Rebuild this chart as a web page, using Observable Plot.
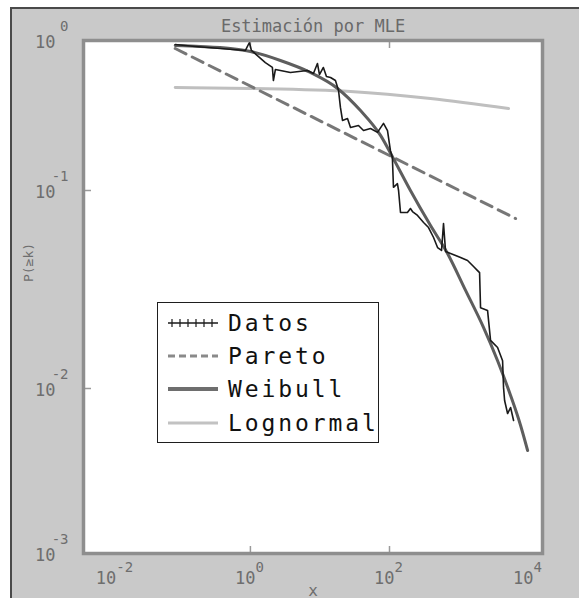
<!DOCTYPE html>
<html>
<head>
<meta charset="utf-8">
<script src="https://cdn.jsdelivr.net/npm/d3@7"></script>
<script src="https://cdn.jsdelivr.net/npm/@observablehq/plot@0.6"></script>
<style>
  html, body { margin: 0; padding: 0; background: #ffffff; }
  #page { position: absolute; left: 0; top: 0; width: 579px; height: 598px; overflow: hidden; background: #ffffff; }
  #figbg { position: absolute; left: 10px; top: 7px; width: 569px; height: 591px; background: #c9c9c9;
           border-top: 2px solid #4a4a4a; border-left: 2px solid #4a4a4a; box-sizing: border-box; }
  #chart { position: absolute; left: 0; top: 0; }
  #legend { position: absolute; left: 157px; top: 302px; width: 222px; height: 141px; box-sizing: border-box;
            border: 1.6px solid #1e1e1e; background: #ffffff; font-family: "DejaVu Sans Mono", monospace;
            font-size: 23px; color: #111; }
  .row { position: absolute; left: 8px; height: 32px; display: flex; align-items: center; }
  .row svg { width: 54px; height: 20px; margin-right: 8px; }
  .row span { letter-spacing: 2.9px; }
</style>
</head>
<body>
<div id="page">
  <div id="figbg"></div>
  <div id="chart"></div>
  <div id="legend"></div>
</div>
<script>
// ---- Data ----
const titleText = "Estimación por MLE";
const xLabel = "x";
const yLabel = "P(≥k)";

// Empirical complementary CDF ("Datos")
const datosX = [0.083,0.162,0.37,0.848,0.967,1.034,1.26,1.64,2.07,2.14,2.29,3.76,6.61,8.06,9.2,9.84,11.2,12.4,14.2,16.7,18.5,19.7,21.1,24.9,27.5,35.8,42.3,53.3,67.2,82,93.6,103,110,114,130,135,144,181,200,214,253,309,364,430,491,560,598,640,755,1052,1325,1617,1846,1973,2038,2570,2838,3583,4227,4365,4519,4989,5510,6083];
const datosP = [0.94,0.912,0.884,0.858,0.97,0.858,0.794,0.713,0.661,0.541,0.641,0.612,0.631,0.603,0.703,0.593,0.661,0.575,0.567,0.541,0.464,0.358,0.293,0.302,0.263,0.271,0.251,0.259,0.244,0.28,0.251,0.185,0.166,0.105,0.111,0.1,0.0774,0.0774,0.0811,0.0783,0.0748,0.0689,0.065,0.0579,0.0515,0.0498,0.0681,0.0492,0.0481,0.0459,0.0443,0.0413,0.0394,0.0385,0.0256,0.0248,0.0175,0.0161,0.0138,0.0101,0.00846,0.00705,0.00767,0.0064];

// Pareto fit (straight line in log-log)
const paretoX = [0.083, 6500];
const paretoP = [0.884, 0.0722];

// Weibull fit
const weibullX = [0.083,0.191,0.515,1.0,2.7,7.3,17.9,38.3,74.3,114,200,389,683,1241,2254,3583,5510,7674,9680];
const weibullP = [0.926,0.912,0.884,0.845,0.736,0.612,0.479,0.341,0.233,0.163,0.1,0.0665,0.0481,0.0313,0.0203,0.0138,0.00907,0.00597,0.00421];

// Lognormal fit
const lognormalX = [0.083, 1, 27.5, 389, 5150];
const lognormalP = [0.486, 0.479, 0.457, 0.41, 0.352];

// Axis ticks
const xTickValues = [0.01, 1, 100, 10000];
const xTickExponents = ["-2", "0", "2", "4"];
const xTickMarks = [1, 100];
const yTickValues = [1, 0.1, 0.01, 0.001];
const yTickExponents = ["0", "-1", "-2", "-3"];
const yTickMarks = [0.1, 0.01];

// Legend
const legendLabels = ["Datos", "Pareto", "Weibull", "Lognormal"];

// ---- Build tables ----
const toRows = (xs, ps) => xs.map((x, i) => ({x, p: ps[i]}));
const datos = toRows(datosX, datosP);
const pareto = toRows(paretoX, paretoP);
const weibull = toRows(weibullX, weibullP);
const lognormal = toRows(lognormalX, lognormalP);
const xTicks = xTickValues.map((v, i) => ({v, e: xTickExponents[i]}));
const yTicks = yTickValues.map((v, i) => ({v, e: yTickExponents[i]}));

const FONT = "DejaVu Sans Mono";
const LABEL = "#6e6e6e";

const plot = Plot.plot({
  width: 579,
  height: 598,
  marginTop: 40,
  marginLeft: 83,
  marginRight: 37,
  marginBottom: 45,
  style: {background: "transparent", fontFamily: FONT, overflow: "visible"},
  x: {type: "log", domain: [Math.pow(10, -2.4), Math.pow(10, 4.2)], axis: null},
  y: {type: "log", domain: [0.001, 0.01, 0.1, 1], range: [553, 388, 190, 40], axis: null},
  marks: [
    Plot.frame({fill: "white", stroke: null}),
    // inward ticks
    Plot.axisX(xTickMarks, {anchor: "bottom", tickSize: 7, dy: -7, fill: "none", stroke: "#9a9a9a", strokeWidth: 1.5}),
    Plot.axisX(xTickMarks, {anchor: "top", tickSize: 7, dy: 7, fill: "none", stroke: "#9a9a9a", strokeWidth: 1.5}),
    Plot.axisY(yTickMarks, {anchor: "left", tickSize: 8, dx: 8, fill: "none", stroke: "#9a9a9a", strokeWidth: 1.5}),
    // curves
    Plot.line(lognormal, {x: "x", y: "p", stroke: "#bfbfbf", strokeWidth: 3, curve: "monotone-x"}),
    Plot.line(pareto, {x: "x", y: "p", stroke: "#777777", strokeWidth: 3, strokeDasharray: "12,7"}),
    Plot.line(weibull, {x: "x", y: "p", stroke: "#5e5e5e", strokeWidth: 3, curve: "monotone-x"}),
    Plot.line(datos, {x: "x", y: "p", stroke: "#1a1a1a", strokeWidth: 1.6}),
    Plot.frame({stroke: "#8e8e8e", strokeWidth: 3.5}),
    // x tick labels
    Plot.text(xTicks, {x: "v", frameAnchor: "bottom", text: () => "10", textAnchor: "end", dx: 5, dy: 30, fontSize: 17, fill: LABEL, fontFamily: FONT}),
    Plot.text(xTicks, {x: "v", frameAnchor: "bottom", text: "e", textAnchor: "start", dx: 5, dy: 18, fontSize: 14, fill: LABEL, fontFamily: FONT}),
    // y tick labels
    Plot.text(yTicks, {y: "v", frameAnchor: "left", text: () => "10", textAnchor: "end", dx: -28, dy: 2, fontSize: 17, fill: LABEL, fontFamily: FONT}),
    Plot.text(yTicks, {y: "v", frameAnchor: "left", text: "e", textAnchor: "end", dx: -15, dy: -14, fontSize: 14, fill: LABEL, fontFamily: FONT}),
    // titles
    Plot.text([titleText], {frameAnchor: "top", dy: -21, fontSize: 17, fill: "#6a6a6a", fontFamily: FONT}),
    Plot.text([xLabel], {frameAnchor: "bottom", dy: 42, fontSize: 16, fill: LABEL, fontFamily: FONT}),
    Plot.text([yLabel], {frameAnchor: "left", dx: -55, dy: -15, rotate: -90, fontSize: 13, fill: LABEL, fontFamily: FONT})
  ]
});
document.getElementById("chart").appendChild(plot);

// ---- Legend (HTML) ----
const swatches = [
  `<line x1="2" y1="10" x2="52" y2="10" stroke="#1a1a1a" stroke-width="1.6"/>` +
    [6, 14, 22, 30, 38, 46].map(x => `<line x1="${x}" y1="6" x2="${x}" y2="14" stroke="#1a1a1a" stroke-width="1.2"/>`).join(""),
  `<line x1="2" y1="10" x2="52" y2="10" stroke="#8a8a8a" stroke-width="3" stroke-dasharray="7,4"/>`,
  `<line x1="2" y1="10" x2="52" y2="10" stroke="#6e6e6e" stroke-width="4"/>`,
  `<line x1="2" y1="10" x2="52" y2="10" stroke="#c2c2c2" stroke-width="3"/>`
];
const tops = [4, 37, 70, 104];
const legend = document.getElementById("legend");
legendLabels.forEach((lab, i) => {
  const row = document.createElement("div");
  row.className = "row";
  row.style.top = tops[i] + "px";
  row.innerHTML = `<svg viewBox="0 0 54 20">${swatches[i]}</svg><span>${lab}</span>`;
  legend.appendChild(row);
});
</script>
</body>
</html>
